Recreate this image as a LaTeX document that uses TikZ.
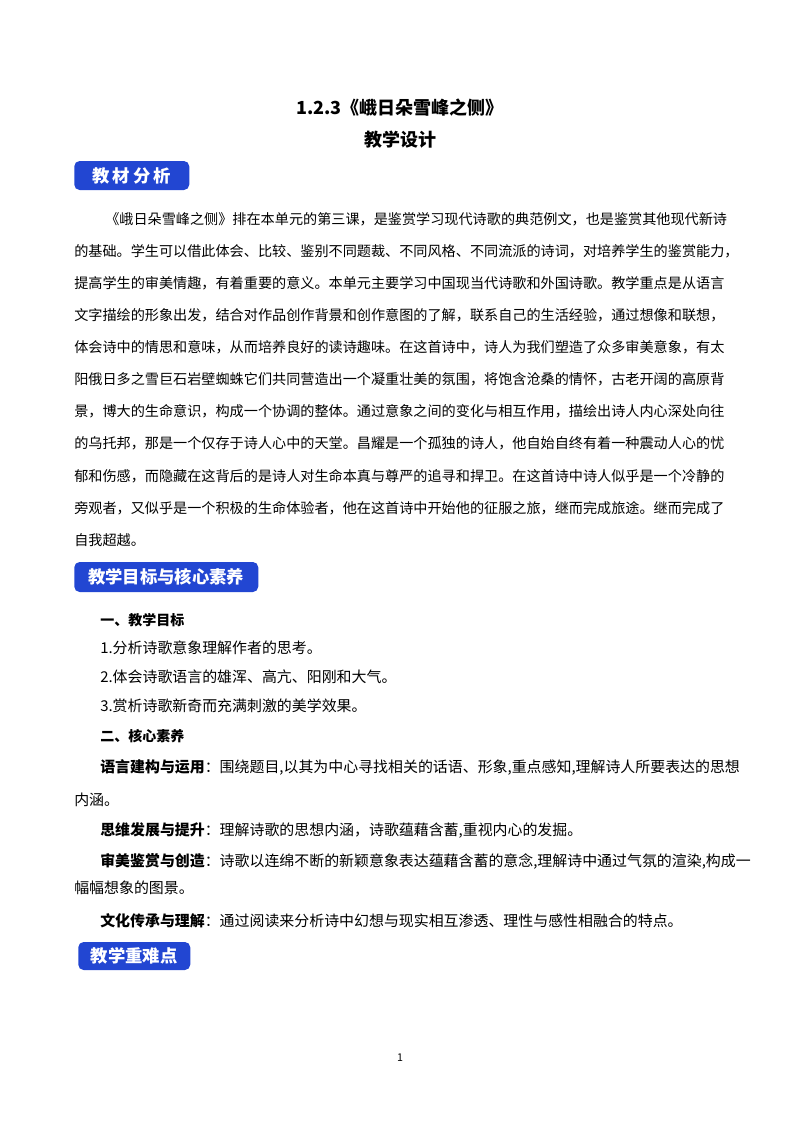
\documentclass[tikz,border=0pt]{standalone}
\usepackage{fontspec}
\setmainfont{Noto Sans CJK SC}
\begin{document}
\begin{tikzpicture}[x=0.75pt,y=-0.75pt,
  banner/.style={fill=bannerblue,rounded corners=4pt,text=white,font=\fontsize{13}{15}\selectfont\bfseries,inner sep=0pt,anchor=west},
  body/.style={anchor=west,inner sep=0pt,font=\fontsize{10.6}{13}\selectfont},
  small/.style={anchor=west,inner sep=0pt,font=\fontsize{11.2}{12}\selectfont},
  title/.style={inner sep=0pt,font=\fontsize{13.5}{16}\selectfont\bfseries}]
\definecolor{bannerblue}{HTML}{2246D2}
\useasboundingbox (0,0) rectangle (800,1132);
\fill[white] (0,0) rectangle (800,1132);
\node[title] (t1) at (400,108) {1.2.3《峨日朵雪峰之侧》};
\node[title] (t2) at (400,140) {教学设计};
\node[banner,minimum width=115pt*0.75,minimum height=29pt*0.75] (b1) at (74,175.5) {教\,材\,分\,析};
\node[body] (p1) at (105,219) {《峨日朵雪峰之侧》排在本单元的第三课，是鉴赏学习现代诗歌的典范例文，也是鉴赏其他现代新诗};
\node[body] (p2) at (74,251.1) {的基础。学生可以借此体会、比较、鉴别不同题裁、不同风格、不同流派的诗词，对培养学生的鉴赏能力，};
\node[body] (p3) at (74,283.2) {提高学生的审美情趣，有着重要的意义。本单元主要学习中国现当代诗歌和外国诗歌。教学重点是从语言};
\node[body] (p4) at (74,315.3) {文字描绘的形象出发，结合对作品创作背景和创作意图的了解，联系自己的生活经验，通过想像和联想，};
\node[body] (p5) at (74,347.4) {体会诗中的情思和意味，从而培养良好的读诗趣味。在这首诗中，诗人为我们塑造了众多审美意象，有太};
\node[body] (p6) at (74,379.5) {阳俄日多之雪巨石岩壁蜘蛛它们共同营造出一个凝重壮美的氛围，将饱含沧桑的情怀，古老开阔的高原背};
\node[body] (p7) at (74,411.6) {景，博大的生命意识，构成一个协调的整体。通过意象之间的变化与相互作用，描绘出诗人内心深处向往};
\node[body] (p8) at (74,443.7) {的乌托邦，那是一个仅存于诗人心中的天堂。昌耀是一个孤独的诗人，他自始自终有着一种震动人心的忧};
\node[body] (p9) at (74,475.8) {郁和伤感，而隐藏在这背后的是诗人对生命本真与尊严的追寻和捍卫。在这首诗中诗人似乎是一个冷静的};
\node[body] (p10) at (74,507.9) {旁观者，又似乎是一个积极的生命体验者，他在这首诗中开始他的征服之旅，继而完成旅途。继而完成了};
\node[body] (p11) at (74,540) {自我超越。};
\node[banner,minimum width=184pt*0.75,minimum height=30pt*0.75] (b2) at (74,577) {教学目标与核心素养};
\node[small,font=\fontsize{10.5}{12}\selectfont\bfseries] (h1) at (100,620) {一、教学目标};
\node[small] (g1) at (100,648) {1.分析诗歌意象理解作者的思考。};
\node[small] (g2) at (100,677) {2.体会诗歌语言的雄浑、高亢、阳刚和大气。};
\node[small] (g3) at (100,706) {3.赏析诗歌新奇而充满刺激的美学效果。};
\node[small,font=\fontsize{10.5}{12}\selectfont\bfseries] (h2) at (100,736) {二、核心素养};
\node[small] (s1) at (100,767) {\textbf{语言建构与运用}：围绕题目,以其为中心寻找相关的话语、形象,重点感知,理解诗人所要表达的思想};
\node[small] (s1b) at (74,800) {内涵。};
\node[small] (s2) at (100,830) {\textbf{思维发展与提升}：理解诗歌的思想内涵，诗歌蕴藉含蓄,重视内心的发掘。};
\node[small] (s3) at (100,861) {\textbf{审美鉴赏与创造}：诗歌以连绵不断的新颖意象表达蕴藉含蓄的意念,理解诗中通过气氛的渲染,构成一};
\node[small] (s3b) at (74,888) {幅幅想象的图景。};
\node[small] (s4) at (100,921) {\textbf{文化传承与理解}：通过阅读来分析诗中幻想与现实相互渗透、理性与感性相融合的特点。};
\node[banner,minimum width=112pt*0.75,minimum height=28pt*0.75] (b3) at (78,956) {教学重难点};
\node[inner sep=0pt,font=\fontsize{8}{10}\selectfont] (pg) at (400,1058) {1};
\end{tikzpicture}
\end{document}
